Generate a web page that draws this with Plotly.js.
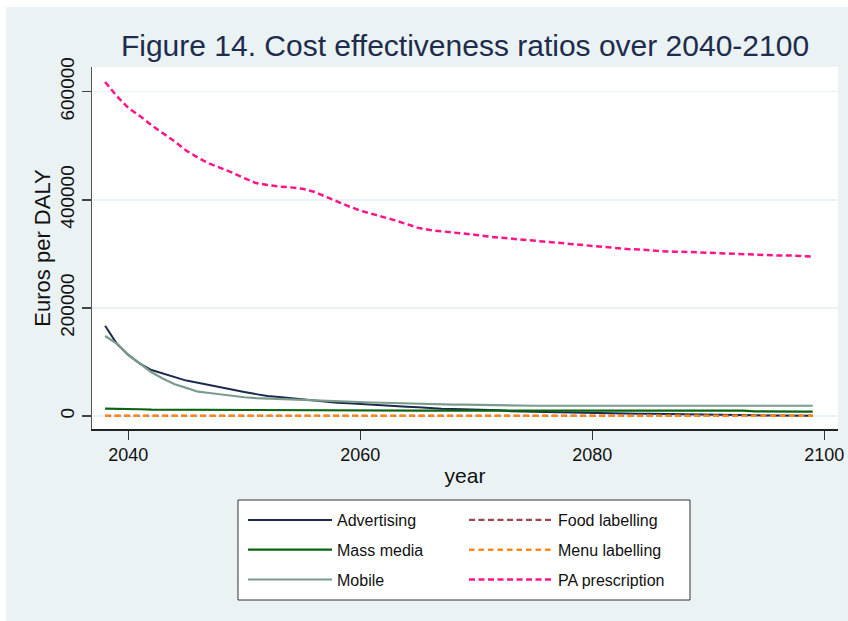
<!DOCTYPE html>
<html>
<head>
<meta charset="utf-8">
<script src="https://cdn.plot.ly/plotly-3.0.1.min.js"></script>
<style>html,body{margin:0;padding:0;background:#fff;}#chart{width:848px;height:621px;}</style>
</head>
<body>
<div id="chart"></div>
<script>
// ---- data ----
var years = [2038,2039,2040,2041,2042,2043,2044,2045,2046,2047,2048,2049,2050,2051,2052,2053,2054,2055,2056,2057,2058,2059,2060,2061,2062,2063,2064,2065,2066,2067,2068,2069,2070,2071,2072,2073,2074,2075,2076,2077,2078,2079,2080,2081,2082,2083,2084,2085,2086,2087,2088,2089,2090,2091,2092,2093,2094,2095,2096,2097,2098,2099];

var advertising = [167000,134000,113000,97000,85000,78500,72700,65500,61600,57000,53000,49000,44400,40500,37000,35000,33000,31000,28500,26000,24500,23500,22000,21000,19500,18000,17200,16000,14500,13600,13000,12500,12200,11500,10500,9000,8000,7500,7200,6800,6300,6200,6000,5500,4800,4400,4300,4200,4000,3000,2500,2400,2400,2300,2200,2000,1200,700,600,600,500,500];

var massMedia = [13600,13600,13500,12500,11800,11700,11600,11500,10800,10600,10500,10500,10500,10500,10500,10500,10500,10200,10200,10200,10200,10200,10200,10200,10200,10200,9900,9900,9900,9900,9900,9900,9900,9900,9900,9900,9900,9900,9900,9900,9900,9900,9900,9900,9900,9900,9900,9900,9900,9900,9900,9900,9900,9900,9900,9900,8500,8100,8100,8100,8100,8100];

var mobile = [148000,134000,113000,97000,81000,69000,58600,52000,45000,42500,39500,37000,34700,33200,32000,31300,30800,30000,29000,28000,27500,27000,26000,25000,24500,23800,23000,22500,22000,21500,21200,21000,20500,20000,19600,19300,19000,19000,19000,19000,19000,19000,19000,19000,19000,19000,19000,19000,19000,19000,19000,19000,19000,19000,19000,19000,19000,19000,19000,19000,19000,19000];

var foodLabelling = [200,200,200,200,200,200,200,200,200,200,200,200,200,200,200,200,200,200,200,200,200,200,200,200,200,200,200,200,200,200,200,200,200,200,200,200,200,200,200,200,200,200,200,200,200,200,200,200,200,200,200,200,200,200,200,200,200,200,200,200,200,200];

var menuLabelling = [300,300,300,300,300,300,300,300,300,300,300,300,300,300,300,300,300,300,300,300,300,300,300,300,300,300,300,300,300,300,300,300,300,300,300,300,300,300,300,300,300,300,300,300,300,300,300,300,300,300,300,300,300,300,300,300,300,300,300,300,300,300];

var paPrescription = [618000,592000,570000,555000,538000,523000,508000,491000,478000,467000,459000,450000,440000,431000,427500,424500,423000,420500,415000,406000,396000,388000,380000,374000,368500,362000,355000,348000,344000,342000,340000,337500,335000,332000,330000,328000,327000,325000,322000,320000,318000,316000,314000,312000,311000,309000,308000,306000,305000,304000,304000,303000,302000,301000,300000,299000,298000,297000,297000,297000,296000,295000];

var xTicks = [2040,2060,2080,2100];
var yTicks = [0,200000,400000,600000];
var yTickText = ["0","200000","400000","600000"];

// ---- chart ----
var FONT = "Liberation Sans, Arial, sans-serif";
function mk(name, y, color, width, dash, legend, group) {
  return {x: years, y: y, name: name, type: "scatter", mode: "lines",
    line: {color: color, width: width, dash: dash},
    legend: legend, legendgroup: group, hoverinfo: "skip"};
}
var traces = [
  mk("Advertising", advertising, "#1c2a4e", 2, "solid", "legend", "a"),
  mk("Mass media", massMedia, "#0b6412", 2.2, "solid", "legend", "b"),
  mk("Mobile", mobile, "#7b9b8c", 2.2, "solid", "legend", "c"),
  mk("Food labelling", foodLabelling, "#a0464f", 2.2, "6px,3.5px", "legend2", "d"),
  mk("Menu labelling", menuLabelling, "#ff8a1c", 2.5, "5.5px,4px", "legend2", "e"),
  mk("PA prescription", paPrescription, "#ff1488", 2.5, "6px,3.5px", "legend2", "f")
];

var legendCommon = {
  orientation: "v", traceorder: "grouped", tracegroupgap: 6,
  itemwidth: 84, bgcolor: "rgba(0,0,0,0)", borderwidth: 0,
  font: {family: FONT, size: 16, color: "#111"},
  xanchor: "left", yanchor: "top", itemclick: false, itemdoubleclick: false
};

var layout = {
  width: 848, height: 621,
  paper_bgcolor: "#eaf2f3", plot_bgcolor: "#ffffff",
  margin: {l: 92, r: 10, t: 67, b: 192, autoexpand: false},
  font: {family: FONT, color: "#111"},
  title: {text: "Figure 14. Cost effectiveness ratios over 2040-2100",
    font: {family: FONT, size: 30, color: "#1e2c4e"},
    x: 0.5, xref: "paper", xanchor: "center", y: 0.927, yref: "container", yanchor: "middle"},
  xaxis: {range: [2036.87, 2101.18], tickvals: xTicks, ticktext: xTicks.map(String),
    showgrid: false, zeroline: false, showline: true, linecolor: "#222", linewidth: 1.5,
    ticks: "outside", ticklen: 9, tickwidth: 1.5, tickcolor: "#333",
    tickfont: {family: FONT, size: 18, color: "#111"},
    title: {text: "year", font: {family: FONT, size: 21, color: "#111"}, standoff: 4}},
  yaxis: {range: [-24050, 645700], tickvals: yTicks, ticktext: yTickText, tickangle: -90,
    showgrid: true, gridcolor: "#eaf2f3", gridwidth: 1.5,
    zeroline: true, zerolinecolor: "#eaf2f3", zerolinewidth: 1.5,
    showline: true, linecolor: "#555", linewidth: 1.5,
    ticks: "outside", ticklen: 9, tickwidth: 1.5, tickcolor: "#444",
    tickfont: {family: FONT, size: 19, color: "#111"},
    title: {text: "Euros per DALY", font: {family: FONT, size: 22, color: "#111"}, standoff: 0}},
  legend: Object.assign({}, legendCommon, {x: (243 - 92) / 746, y: -0.2044}),
  legend2: Object.assign({}, legendCommon, {x: (464 - 92) / 746, y: -0.2044}),
  shapes: [
    {type: "rect", xref: "paper", yref: "paper", x0: 0.1957, x1: 0.8016, y0: -0.4724, y1: -0.1961,
     line: {color: "#333", width: 1}, fillcolor: "#ffffff", layer: "below"},
    {type: "rect", xref: "paper", yref: "paper", x0: -0.13, x1: 1.02, y0: 1.1657, y1: 1.19,
     line: {width: 0}, fillcolor: "#ffffff", layer: "below"},
    {type: "rect", xref: "paper", yref: "paper", x0: -0.13, x1: -0.1153, y0: -0.54, y1: 1.19,
     line: {width: 0}, fillcolor: "#ffffff", layer: "below"}
  ],
  showlegend: true
};

Plotly.newPlot("chart", traces, layout, {staticPlot: true, displayModeBar: false});
</script>
</body>
</html>
